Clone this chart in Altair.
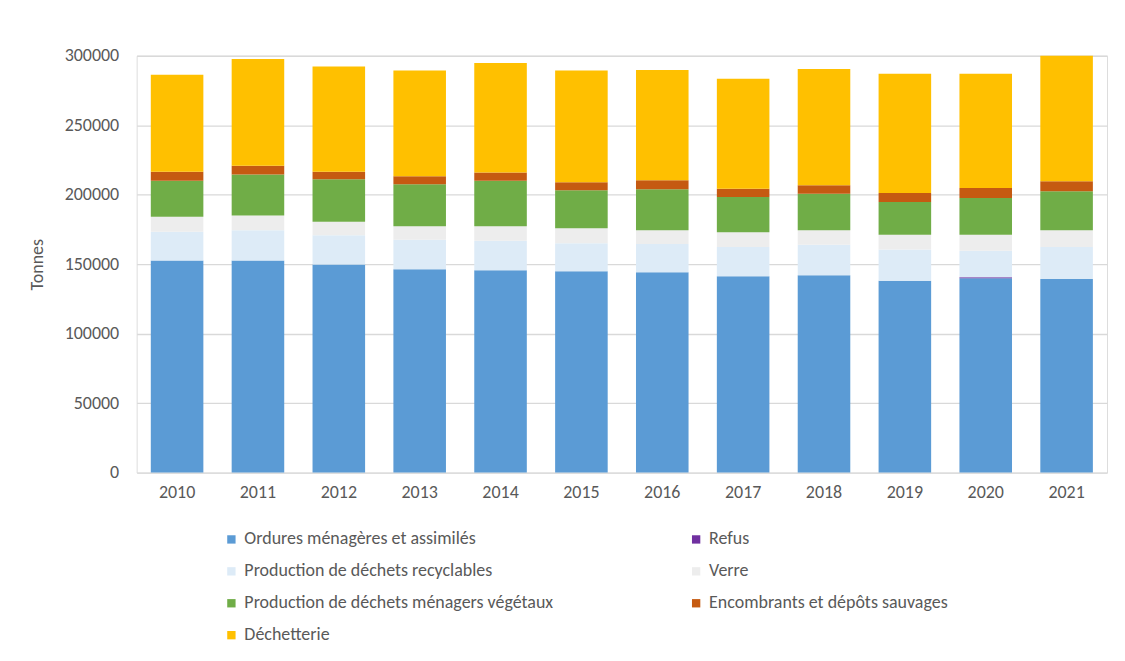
import altair as alt
import pandas as pd

years = ["2010", "2011", "2012", "2013", "2014", "2015", "2016", "2017", "2018", "2019", "2020", "2021"]
series = ["Ordures ménagères et assimilés", "Refus", "Production de déchets recyclables", "Verre",
          "Production de déchets ménagers végétaux", "Encombrants et dépôts sauvages", "Déchetterie"]
colors = ["#5B9BD5", "#7030A0", "#DDEBF7", "#EDEDED", "#70AD47", "#C55A11", "#FFC000"]

om = [152600, 152600, 149700, 146400, 145700, 145000, 144200, 141400, 142100, 138000, 139900, 139400]
refus = [0, 0, 0, 0, 0, 0, 0, 0, 0, 0, 700, 0]
recyclables = [20800, 21800, 21100, 21100, 21100, 20100, 20400, 21000, 21800, 22500, 19000, 23000]
verre = [10800, 10600, 9800, 9800, 10500, 10800, 9800, 10600, 10500, 10600, 11500, 12000]
vegetaux = [25900, 29500, 30500, 30200, 32800, 27300, 29600, 25400, 26200, 23700, 26600, 28100]
encombrants = [6500, 6400, 5500, 5800, 5800, 5800, 6400, 5800, 6200, 6500, 7200, 7200]
decheterie = [69800, 76800, 75600, 76000, 78900, 80300, 79400, 79300, 83700, 85800, 82200, 90300]

values = [om, refus, recyclables, verre, vegetaux, encombrants, decheterie]
rows = []
for k, (name, vals) in enumerate(zip(series, values)):
    for y, v in zip(years, vals):
        rows.append({"Année": y, "Catégorie": name, "Tonnes": v, "ordre": k})
df = pd.DataFrame(rows)

FONT = "Calibri, Carlito, Lato"
GREY = "#595959"

chart = alt.Chart(df).mark_bar().encode(
    x=alt.X("Année:N", sort=years,
            scale=alt.Scale(paddingInner=0.35, paddingOuter=0.175),
            axis=alt.Axis(title=None, labelAngle=0, ticks=False, domain=False,
                          labelPadding=11, labelFontSize=18, labelColor=GREY, labelFont=FONT)),
    y=alt.Y("Tonnes:Q", stack="zero",
            scale=alt.Scale(domain=[0, 300000], nice=False),
            axis=alt.Axis(title="Tonnes", values=[0, 50000, 100000, 150000, 200000, 250000, 300000],
                          format="d", ticks=False, domain=False, labelPadding=18,
                          labelFontSize=18, labelColor=GREY, labelFont=FONT,
                          titleFontSize=18, titleColor=GREY, titleFont=FONT, titleFontWeight="normal",
                          titlePadding=18, gridColor="#D9D9D9", gridWidth=1.3)),
    color=alt.Color("Catégorie:N", sort=series,
                    scale=alt.Scale(domain=series, range=colors),
                    legend=alt.Legend(title=None, orient="none", legendX=86, legendY=476,
                                      direction="horizontal",
                                      columns=2, columnPadding=134, rowPadding=14,
                                      symbolType="square", symbolSize=70, symbolStrokeWidth=0,
                                      labelFontSize=18, labelColor=GREY, labelFont=FONT,
                                      labelLimit=500, labelOffset=4)),
    order=alt.Order("ordre:Q", sort="ascending"),
).properties(
    width=973, height=418,
    autosize=alt.AutoSizeParams(type="none"),
    padding={"left": 129, "top": 47, "right": 10, "bottom": 180},
).configure_view(stroke=None).configure(background="white")

chart.save("out.html", embed_options={"renderer": "svg", "actions": False})
